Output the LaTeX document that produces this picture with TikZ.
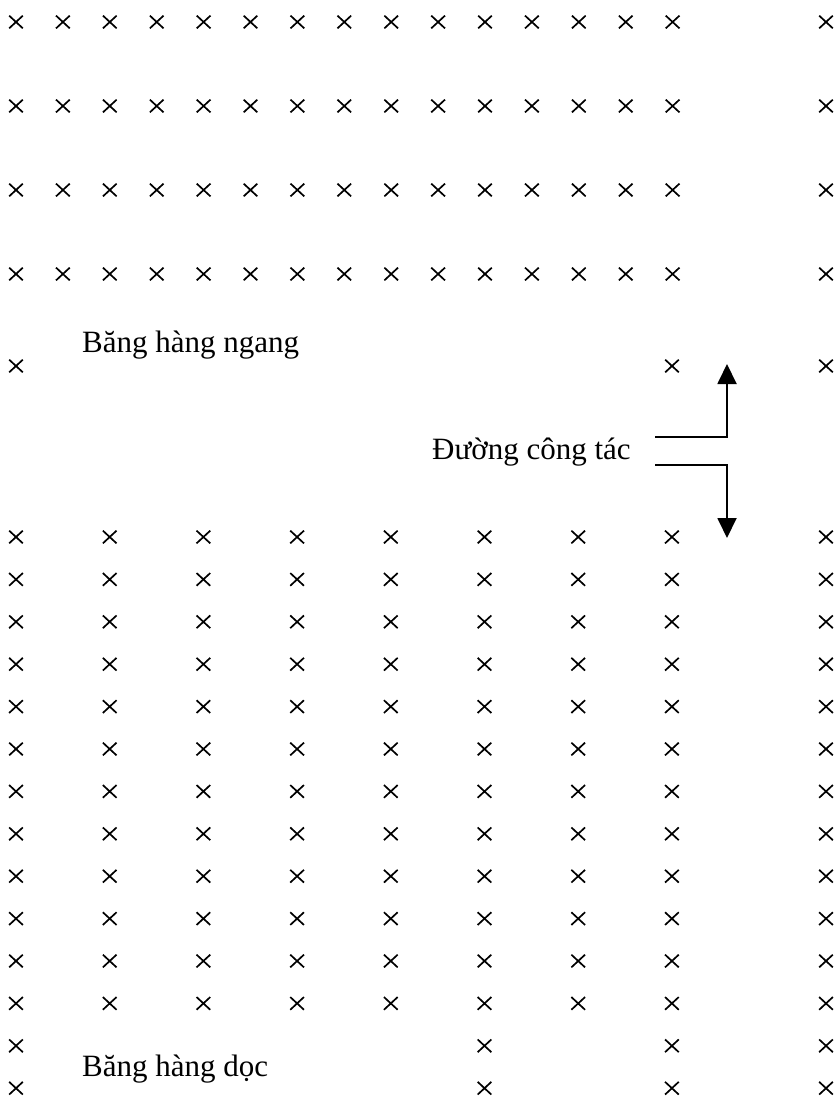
\documentclass[tikz,border=0pt]{standalone}
\usepackage{fontspec}
\setmainfont{Liberation Serif}
\usepackage{tikz}
\usetikzlibrary{arrows.meta,shapes.misc}
\tikzset{
  pole/.style    = {cross out, draw=black, line width=1.7pt, inner sep=0pt,
                    minimum width=12pt, minimum height=11pt},
  caption/.style = {anchor=base west, inner sep=0pt,
                    font=\fontsize{31}{37}\selectfont},
  workline/.style = {black, line width=1.9pt,
                    -{Triangle[length=20pt, width=19pt]}},
}

\begin{document}
\begin{tikzpicture}[x=1pt, y=-1pt]
  \useasboundingbox (0,0) rectangle (837,1102);
  % horizontal band: 4 dense rows
  \foreach \r in {0,...,3} {
    \foreach \c in {0,...,14}
      \node[pole] (h-\r-\c) at ({16+46.9*\c},{22+84*\r}) {};
    \node[pole] (h-\r-e) at (826,{22+84*\r}) {};
  }
  \node[pole] (h-4-0) at (16,366) {};
  \node[pole] (h-4-14) at (672,366) {};
  \node[pole] (h-4-e) at (826,366) {};
  \node[caption] (ngang) at (82,352) {Băng hàng ngang};

  % vertical band
  \foreach \r in {0,...,11} {
    \foreach \c in {0,...,7}
      \node[pole] (v-\r-\c) at ({16+93.7*\c},{537+42.4*\r}) {};
    \node[pole] (v-\r-e) at (826,{537+42.4*\r}) {};
  }
  \foreach \r in {12,13} {
    \foreach \c in {0,5,7}
      \node[pole] (v-\r-\c) at ({16+93.7*\c},{537+42.4*\r}) {};
    \node[pole] (v-\r-e) at (826,{537+42.4*\r}) {};
  }
  \node[caption] (doc) at (82,1076) {Băng hàng dọc};

  % working line
  \node[caption] (work) at (432,459) {Đường công tác};
  \coordinate (up-start) at (655,437);
  \coordinate (up-bend) at (727,437);
  \coordinate (up-end) at (727,364);
  \coordinate (dn-start) at (655,465);
  \coordinate (dn-bend) at (727,465);
  \coordinate (dn-end) at (727,538);
  \draw[workline] (up-start) -- (up-bend) -- (up-end);
  \draw[workline] (dn-start) -- (dn-bend) -- (dn-end);
\end{tikzpicture}
\end{document}
